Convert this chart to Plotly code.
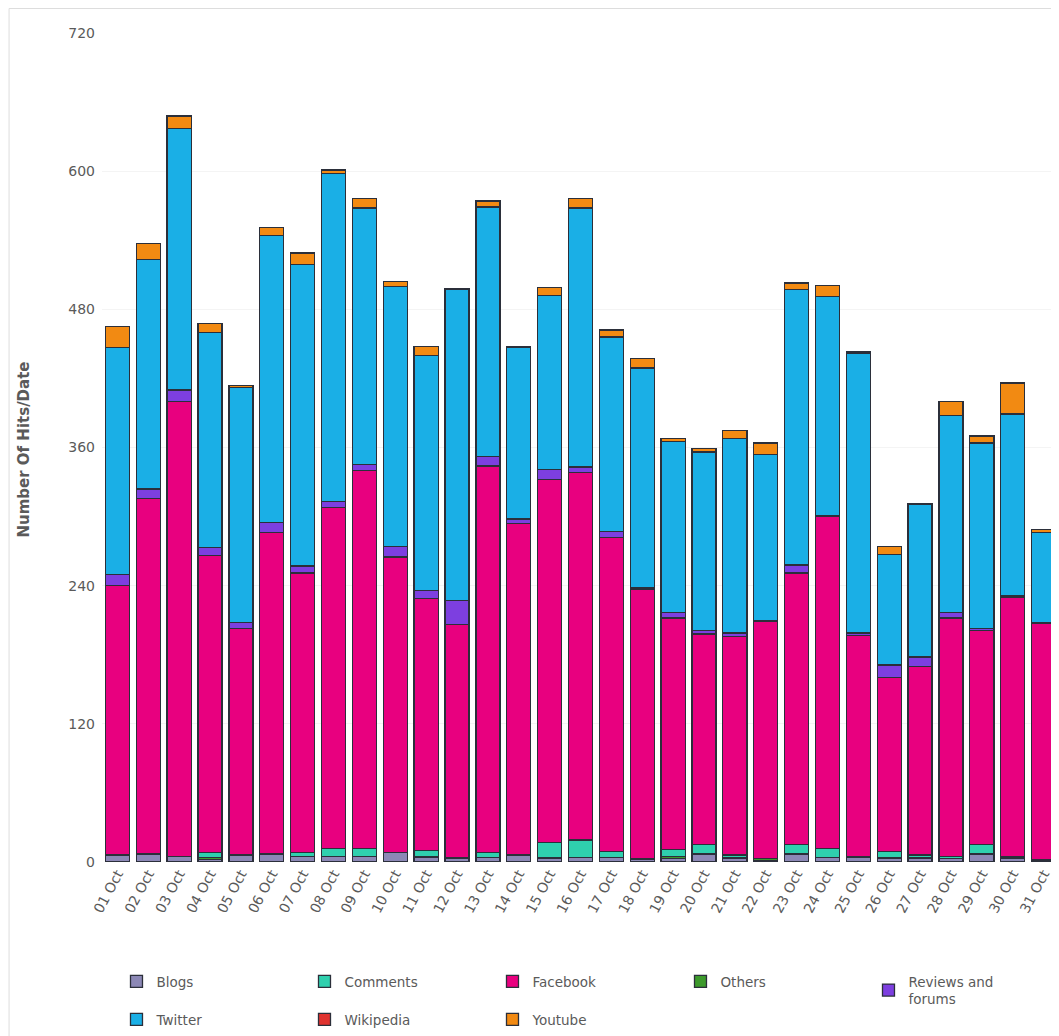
import plotly.graph_objects as go

dates = [f"{d:02d} Oct" for d in range(1, 32)]

blogs = [6, 7, 5, 2, 6, 7, 5, 5, 5, 8, 4, 3, 4, 6, 3, 4, 4, 2, 3, 7, 3, 1, 7, 4, 4, 3, 3, 3, 7, 3, 1]
others = [0, 0, 0, 2, 0, 0, 0, 0, 0, 0, 1, 1, 0, 0, 1, 0, 0, 1, 2, 0, 1, 2, 0, 0, 1, 1, 1, 0, 0, 1, 1]
comments = [0, 0, 0, 4, 0, 0, 3, 7, 7, 0, 5, 0, 4, 0, 13, 15, 5, 0, 6, 8, 2, 0, 8, 8, 0, 5, 2, 2, 8, 1, 0]
facebook = [234, 309, 395, 258, 197, 279, 243, 296, 328, 257, 219, 202, 336, 288, 315, 319, 273, 234,
            201, 183, 190, 206, 236, 288, 192, 151, 164, 207, 186, 225, 205]
reviews = [10, 8, 10, 7, 5, 9, 6, 5, 5, 9, 7, 21, 8, 4, 9, 5, 5, 1, 5, 3, 3, 1, 7, 1, 2, 11, 8, 5, 2, 1, 1]
twitter = [197, 199, 227, 187, 204, 249, 262, 285, 223, 226, 204, 270, 217, 149, 151, 225, 169, 191,
           148, 155, 169, 144, 239, 190, 243, 96, 133, 171, 161, 158, 78]
wikipedia = [0] * 31
youtube = [18, 14, 11, 8, 2, 7, 10, 3, 8, 4, 8, 1, 5, 1, 7, 8, 6, 8, 3, 3, 7, 10, 6, 10, 1, 7, 0, 12, 6, 27, 3]

y_ticks = [0, 120, 240, 360, 480, 600, 720]

# (name, values, color, legend rank) in stacking order
series = [
    ("Blogs", blogs, "#8c88b6", 1),
    ("Others", others, "#3d9a2c", 4),
    ("Comments", comments, "#2fd0ae", 2),
    ("Facebook", facebook, "#e8007f", 3),
    ("Reviews and<br>forums", reviews, "#7d3fe0", 5),
    ("Twitter", twitter, "#1aafe6", 6),
    ("Wikipedia", wikipedia, "#e0332f", 7),
    ("Youtube", youtube, "#f28a12", 8),
]

fig = go.Figure()
for name, vals, color, rank in series:
    fig.add_trace(go.Bar(
        x=dates, y=vals, name=name, legendrank=rank,
        marker=dict(color=color, line=dict(color="#2b2f3a", width=1.3)),
    ))

# the page body has an 8px margin: figure is placed at (8, 8) in the window
OFF = 8
W, H = 1059 - OFF, 1036 - OFF
L, R, T, B = 101.5 - OFF, 0, 33 - OFF, 174
pw = W - L - R
ph = H - T - B

def px(xpix):
    return (xpix - OFF - L) / pw

def py(ypix):
    return (H - B - (ypix - OFF)) / ph

FONT = "DejaVu Sans, Verdana, sans-serif"
GREY = "#5a5a5a"

fig.update_layout(
    width=W, height=H,
    margin=dict(l=L, r=R, t=T, b=B, pad=0),
    barmode="stack",
    bargap=0.22,
    plot_bgcolor="white",
    paper_bgcolor="white",
    font=dict(family=FONT, color=GREY, size=14),
    xaxis=dict(
        type="category", range=[-0.5, 30.5], tickangle=-62,
        showgrid=False, showline=False, ticks="",
        tickfont=dict(size=14, color=GREY),
    ),
    yaxis=dict(
        range=[0, 720], tickvals=y_ticks, ticktext=[str(v) for v in y_ticks],
        showgrid=True, gridcolor="#f4f4f4", zeroline=False, showline=False,
        ticks="", ticklabelstandoff=6,
        tickfont=dict(size=14, color=GREY),
    ),
    legend=dict(
        orientation="h", x=px(116), xanchor="left", y=py(966), yanchor="top",
        entrywidth=143, entrywidthmode="pixels",
        font=dict(size=13.5, color=GREY, family=FONT),
        traceorder="normal", bgcolor="rgba(0,0,0,0)",
    ),
    annotations=[dict(
        text="<b>Number Of Hits/Date</b>", textangle=-90,
        x=px(23), y=py(450), xref="paper", yref="paper",
        xanchor="center", yanchor="middle", showarrow=False,
        font=dict(size=15, color=GREY, family=FONT),
    )],
    shapes=[
        dict(type="line", xref="paper", yref="paper", x0=px(8.5), x1=px(1059), y0=py(8.5), y1=py(8.5),
             line=dict(color="#dddddd", width=1)),
        dict(type="line", xref="paper", yref="paper", x0=px(8.5), x1=px(8.5), y0=py(8.5), y1=py(1036),
             line=dict(color="#dddddd", width=1)),
    ],
    showlegend=True,
)

fig.write_html("out.html")
